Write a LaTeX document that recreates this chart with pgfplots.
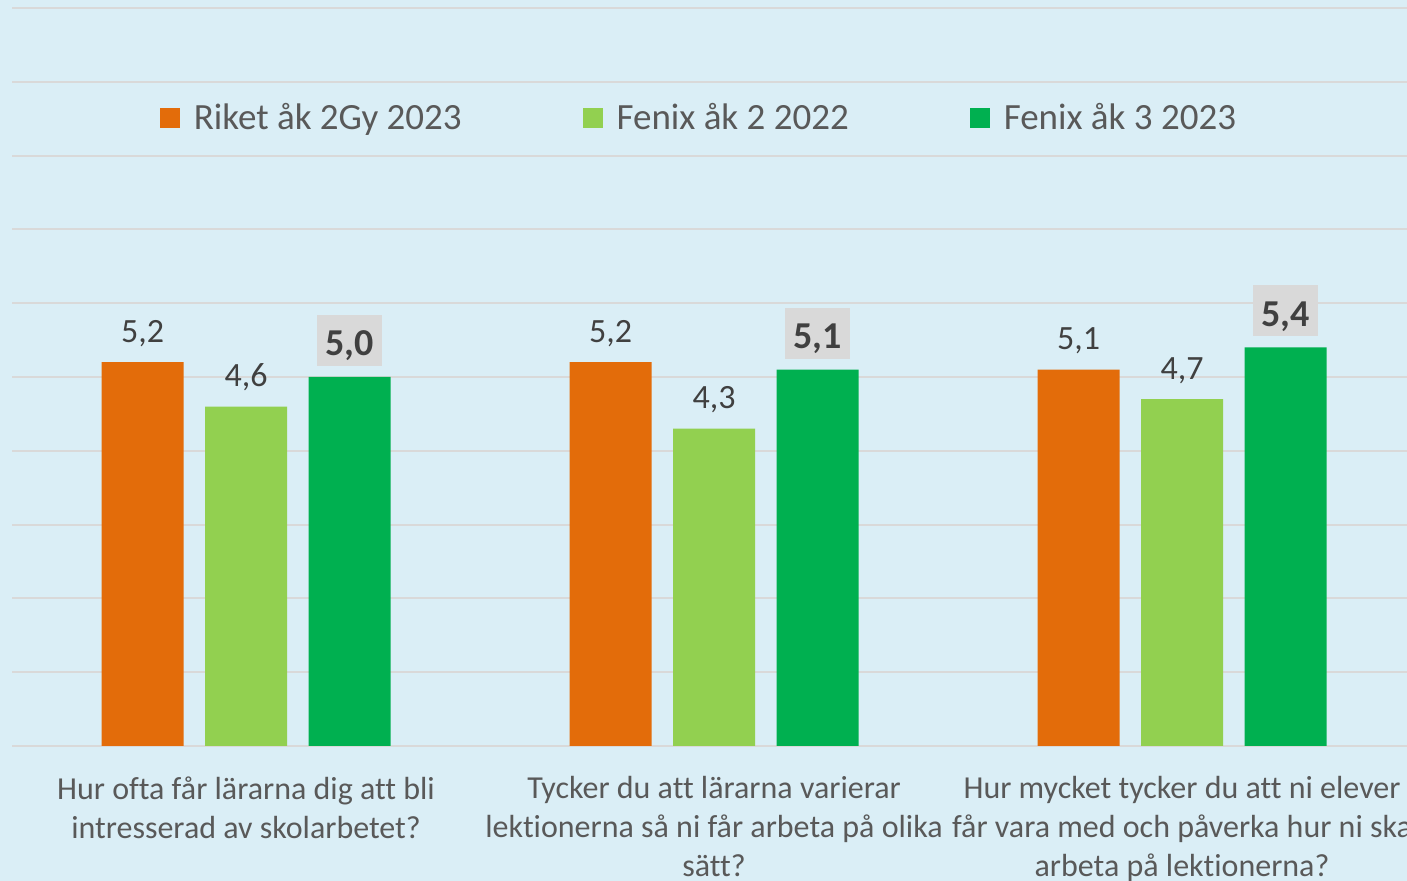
\documentclass[border=0pt]{standalone}
\usepackage{fontspec}
\setmainfont{Carlito}[Ligatures=NoCommon]
\usepackage{pgfplots}
\pgfplotsset{compat=1.18}
\definecolor{bg}{HTML}{DAEEF6}
\definecolor{gridc}{HTML}{D9D9D9}
\definecolor{c1}{HTML}{E36C0A}
\definecolor{c2}{HTML}{92D050}
\definecolor{c3}{HTML}{00B050}
\definecolor{txt}{HTML}{595959}
\definecolor{lbl}{HTML}{404040}
\begin{document}
\begin{tikzpicture}
\fill[bg] (-6pt,-67.5pt) rectangle (697.5pt,373pt);
\begin{scope}
\clip (-6pt,-67.5pt) rectangle (697.5pt,373pt);
\begin{axis}[
  at={(0pt,0pt)}, anchor=south west,
  scale only axis, width=702pt, height=369pt,
  xmin=-0.5, xmax=2.5, ymin=0, ymax=10,
  ybar=10.75pt, bar width=41pt,
  axis line style={draw=none},
  ymajorgrids, grid style={gridc, line width=1pt},
  ytick={0,1,...,10}, yticklabels={},
  major tick length=0pt, tick style={draw=none},
  xtick={0,1,2},
  xticklabels={{Hur ofta får lärarna dig att bli\\intresserad av skolarbetet?},
               {Tycker du att lärarna varierar\\lektionerna så ni får arbeta på olika\\sätt?},
               {Hur mycket tycker du att ni elever\\får vara med och påverka hur ni ska\\arbeta på lektionerna?}},
  x tick label style={align=center, font=\fontsize{16}{19.5}\selectfont, text=txt, inner sep=0pt, anchor=north, yshift=-15pt},
  /pgf/number format/.cd, use comma, fixed, fixed zerofill, precision=1, assume math mode=true,
  /pgfplots/.cd,
  nodes near coords,
  every node near coord/.append style={font=\fontsize{17}{20}\selectfont, text=lbl, inner sep=0pt, anchor=base, yshift=10pt},
  legend style={at={(0.49,0.8515)}, anchor=center, draw=none, fill=none,
    font=\fontsize{18.5}{22}\selectfont, text=txt,
    /tikz/every odd column/.append style={column sep=5pt},
    /tikz/every even column/.append style={column sep=58.5pt}},
  legend columns=-1,
]
\addplot[fill=c1, draw=none, legend image code/.code={\fill[c1] (0pt,-5pt) rectangle (10pt,5pt);}]
  coordinates {(0,5.2) (1,5.2) (2,5.1)};
\addplot[fill=c2, draw=none, legend image code/.code={\fill[c2] (0pt,-5pt) rectangle (10pt,5pt);}]
  coordinates {(0,4.6) (1,4.3) (2,4.7)};
\addplot[fill=c3, draw=none, legend image code/.code={\fill[c3] (0pt,-5pt) rectangle (10pt,5pt);},
  every node near coord/.append style={font=\bfseries\fontsize{19}{22}\selectfont, fill=gridc, text height=20.5pt, text depth=5pt, inner xsep=4pt, inner ysep=0pt, anchor=base, yshift=0.5pt}]
  coordinates {(0,5.0) (1,5.1) (2,5.4)};
\legend{Riket åk 2Gy 2023, Fenix åk 2 2022, Fenix åk 3 2023}
\end{axis}
\end{scope}
\pgfresetboundingbox
\path[use as bounding box] (-6pt,-67.5pt) rectangle (697.5pt,373pt);
\end{tikzpicture}
\end{document}
